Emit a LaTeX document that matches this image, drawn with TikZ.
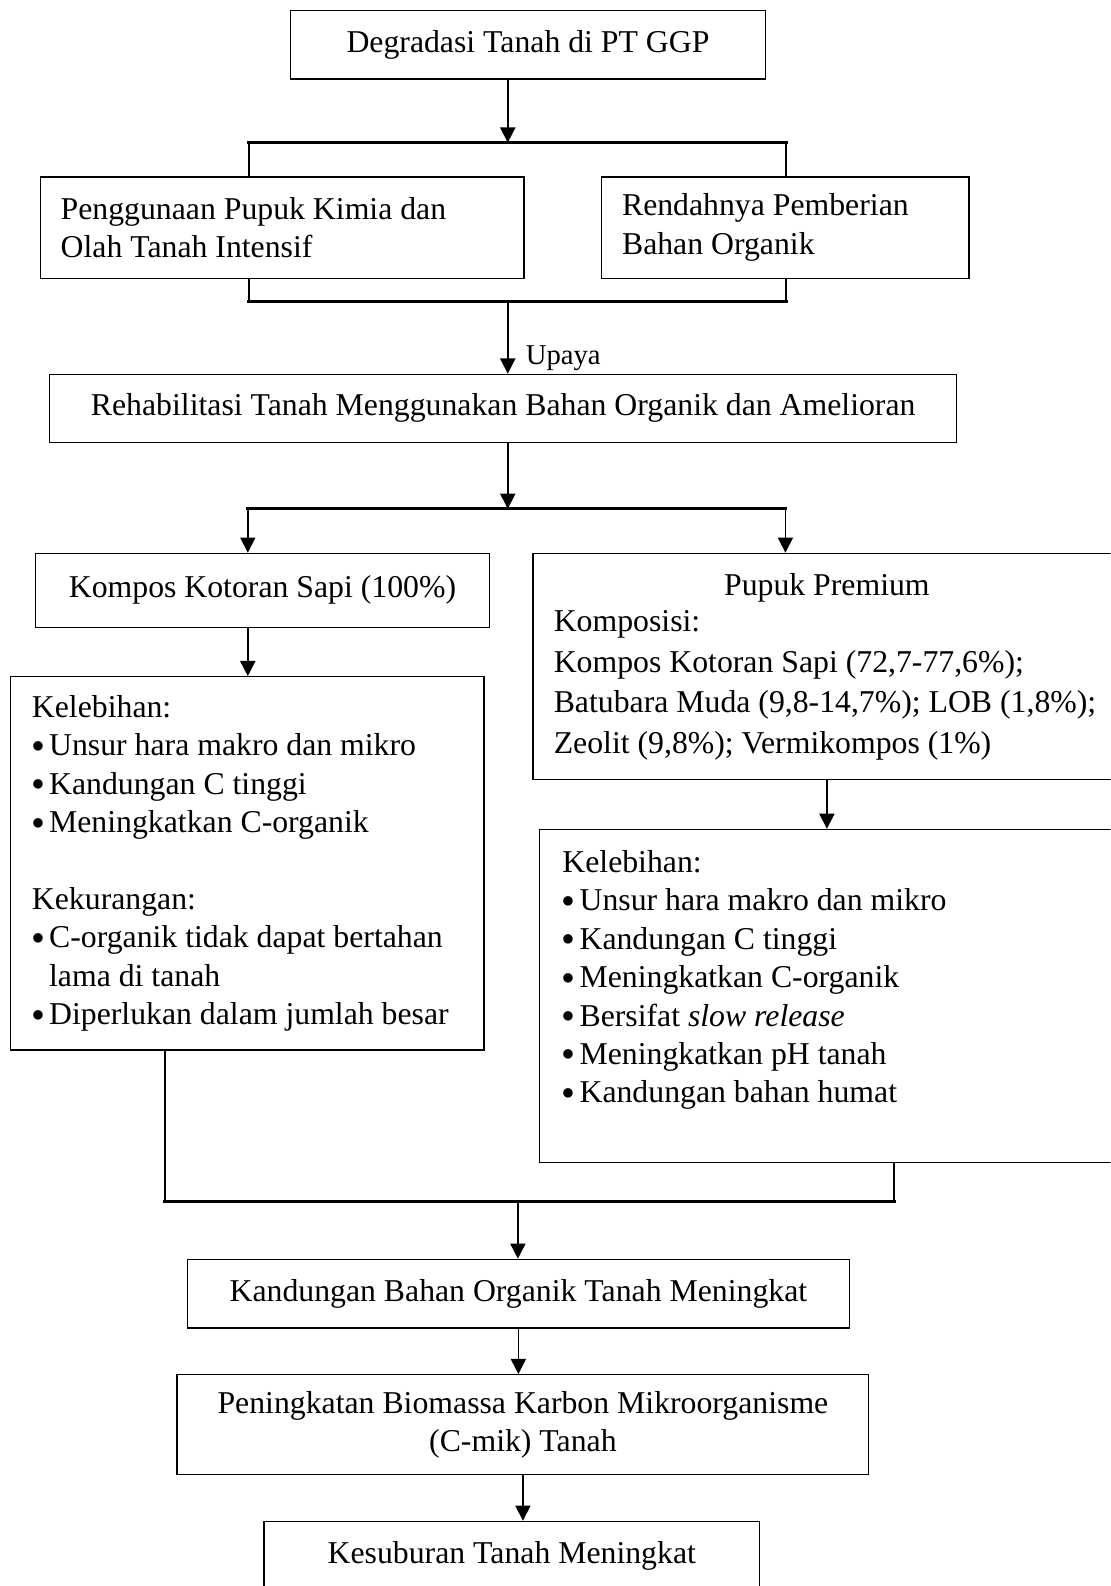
\documentclass[tikz,border=0pt]{standalone}
\usepackage{fontspec}
\setmainfont{Liberation Serif}
\usepackage{tikz}
\usetikzlibrary{positioning,calc,arrows.meta}
\newcommand{\bul}{\makebox[8.5pt][l]{\hspace*{-0.4pt}\raisebox{-0.11em}{\scalebox{1.25}{\textbullet}}}}

\begin{document}
\begin{tikzpicture}[x=0.5pt,y=-0.5pt,
  font=\fontsize{15.7}{19}\selectfont,
  box/.style={draw,line width=0.6pt,inner sep=0pt,align=center},
  lbox/.style={draw,line width=0.6pt,inner ysep=0pt,align=flush left},
  arr/.style={line width=0.8pt,-{Triangle[length=7.5pt,width=7.5pt]}},
  link/.style={line width=1.3pt},
  bar/.style={line width=1.7pt,line cap=rect}]
  \useasboundingbox (0,0) rectangle (1098,1568);
  \clip (0,0) rectangle (1098,1568);

  \node[box,minimum width=235pt,minimum height=34pt] (degr) at (522,44) {Degradasi Tanah di PT GGP};
  \node[lbox,minimum height=50pt,text width=219pt,inner xsep=10pt] (peng) at (279,225)
    {\spaceskip=0pt Penggunaan Pupuk Kimia dan\\Olah Tanah Intensif};
  \node[lbox,minimum height=50pt,text width=161.5pt,inner xsep=10pt] (rend) at (776.5,225)
    {\spaceskip=0pt Rendahnya Pemberian\\Bahan Organik};
  \node[box,minimum width=448.5pt,minimum height=33.75pt] (rehab) at (497.5,403.75)
    {Rehabilitasi Tanah Menggunakan Bahan Organik dan Amelioran};
  \node[box,minimum width=224.5pt,minimum height=36.5pt] (kompos) at (259.5,583.5) {Kompos Kotoran Sapi (100\%)};
  \node[lbox,minimum height=112pt,text width=270pt,inner xsep=10.3pt,font=\fontsize{15.7}{20}\selectfont] (pupuk) at (817.5,659)
    {\spaceskip=0pt\noindent\makebox[\hsize]{Pupuk Premium}\\[-2pt]
     Komposisi:\\
     \mbox{Kompos Kotoran Sapi (72,7-77,6\%);}\\
     \mbox{Batubara Muda (9,8-14,7\%); LOB (1,8\%);}\\
     \mbox{Zeolit (9,8\%); Vermikompos (1\%)}};
  \node[lbox,minimum height=184.5pt,text width=213pt,inner xsep=10.5pt] (kelA) at (244.6,853.5)
    {\spaceskip=0pt\noindent Kelebihan:\\
     \bul Unsur hara makro dan mikro\\
     \bul Kandungan C tinggi\\
     \bul Meningkatkan C-organik\\[19pt]
     Kekurangan:\\
     \bul C-organik tidak dapat bertahan\\
     \hspace*{8.5pt}lama di tanah\\
     \bul Diperlukan dalam jumlah besar};
  \node[lbox,minimum height=164.5pt,text width=263.5pt,inner xsep=11.5pt] (kelB) at (819.5,984.5)
    {\spaceskip=0pt\noindent Kelebihan:\\
     \bul Unsur hara makro dan mikro\\
     \bul Kandungan C tinggi\\
     \bul Meningkatkan C-organik\\
     \bul Bersifat \textit{slow release}\\
     \bul Meningkatkan pH tanah\\
     \bul Kandungan bahan humat\\
     \mbox{}};
  \node[box,minimum width=327.5pt,minimum height=34pt] (naik) at (512.5,1279) {Kandungan Bahan Organik Tanah Meningkat};
  \node[box,minimum width=342pt,minimum height=49.5pt] (cmik) at (517,1408.5)
    {Peningkatan Biomassa Karbon Mikroorganisme\\(C-mik) Tanah};
  \node[box,minimum width=245pt,minimum height=34pt] (subur) at (506,1538) {Kesuburan Tanah Meningkat};

  \coordinate (t1) at (502,141);
  \coordinate (t1l) at (246,141);
  \coordinate (t1r) at (777,141);
  \coordinate (t2) at (502,298);
  \coordinate (t2l) at (246,298);
  \coordinate (t2r) at (777,298);
  \coordinate (t3) at (502,503);
  \coordinate (t3l) at (245,503);
  \coordinate (t3r) at (776.5,503);
  \coordinate (t4) at (512,1188);
  \coordinate (t4l) at (163.3,1188);
  \coordinate (t4r) at (884,1188);

  \draw[arr] (degr.south -| t1) -- (t1);
  \draw[link] (peng.north -| t1l) -- (t1l);
  \draw[link] (rend.north -| t1r) -- (t1r);
  \draw[bar] (t1l) -- (t1r);
  \draw[link] (peng.south -| t2l) -- (t2l);
  \draw[link] (rend.south -| t2r) -- (t2r);
  \draw[bar] (t2l) -- (t2r);
  \draw[arr] (t2) -- node[pos=0.78,right=8.5pt,inner sep=0pt,font=\fontsize{14.2}{17}\selectfont] {Upaya} (rehab.north -| t2);
  \draw[arr] (rehab.south -| t3) -- (t3);
  \draw[bar] (t3l) -- (t3r);
  \draw[arr] (t3l) -- (kompos.north -| t3l);
  \draw[arr] (t3r) -- (pupuk.north -| t3r);
  \draw[arr] (kompos.south -| t3l) -- (kelA.north -| t3l);
  \draw[arr] (pupuk.south) -- (kelB.north -| pupuk.south);
  \draw[link] (kelA.south -| t4l) -- (t4l);
  \draw[link] (kelB.south -| t4r) -- (t4r);
  \draw[bar] (t4l) -- (t4r);
  \draw[arr] (t4) -- (naik.north -| t4);
  \draw[arr] (naik.south) -- (naik.south |- cmik.north);
  \draw[arr] (cmik.south) -- (cmik.south |- subur.north);
\end{tikzpicture}
\end{document}
